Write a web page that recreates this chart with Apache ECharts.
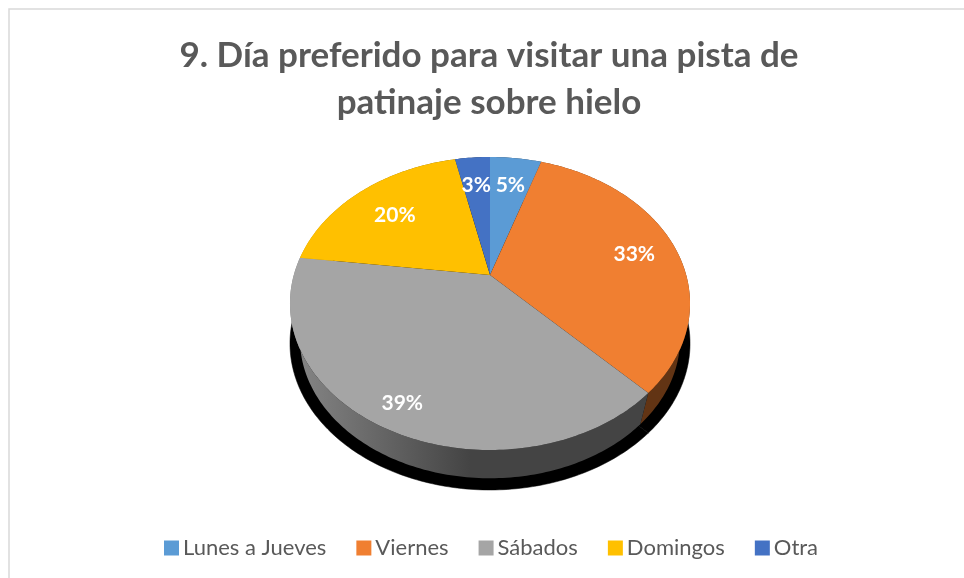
<!DOCTYPE html>
<html>
<head>
<meta charset="utf-8">
<title>Día preferido</title>
<script src="https://cdn.jsdelivr.net/npm/echarts@6/dist/echarts.min.js"></script>
<style>
    html, body { margin: 0; padding: 0; background: #fff; }
    #chart { width: 964px; height: 578px; }
</style>
</head>
<body>
<div id="chart"></div>
<script>
    var categories = ['Lunes a Jueves', 'Viernes', 'Sábados', 'Domingos', 'Otra'];
    var shares = [5, 32.8, 39.2, 19.6, 3.4];
    var colors = ['#5B9BD5', '#F07F31', '#A5A5A5', '#FFC000', '#4472C4'];

    // how far out each percentage sits, as a fraction of the radius
    var labelReach = [0.76, 0.78, 0.85, 0.72, 0.76];

    // tilted disc: the hub is above the middle of the ellipse
    var hubX = 490, hubY = 275;
    var radX = 196.2, radY = 140.96, tilt = 0.1945;
    var wallScale = 0.95, wallDrop = 37, shadowDrop = 40;

    var total = shares.reduce(function (a, b) { return a + b; }, 0);

    function project(deg, reach, scale, drop) {
        var a = deg * Math.PI / 180;
        var u = Math.sin(a) * reach, v = -Math.cos(a) * reach;
        var d = 1 - tilt * v;
        return [hubX + scale * radX * u / d, hubY + drop + scale * radY * v / d];
    }

    function arc(from, to, scale, drop) {
        var pts = [];
        var steps = Math.max(2, Math.ceil(to - from));
        for (var i = 0; i <= steps; i++) {
            pts.push(project(from + (to - from) * i / steps, 1, scale, drop));
        }
        return pts;
    }

    function shade(color, f) {
        var c = echarts.color.parse(color);
        return 'rgb(' + Math.round(c[0] * f) + ',' + Math.round(c[1] * f) + ',' + Math.round(c[2] * f) + ')';
    }

    function wallFill(color) {
        return new echarts.graphic.LinearGradient(300, 0, 470, 0, [
            { offset: 0, color: shade(color, 0.8) },
            { offset: 1, color: shade(color, 0.41) }
        ], true);
    }

    function sliceRenderer(idx) {
        var before = 0;
        for (var i = 0; i < idx; i++) before += shares[i];
        return function (params, api) {
            var value = api.value(0);
            var from = before / total * 360;
            var to = (before + value) / total * 360;
            var mid = project((from + to) / 2, labelReach[idx], 1, 0);
            var wall = arc(from, to, 1, 0).concat(arc(from, to, wallScale, wallDrop).reverse());
            var shadow = [project(0, 0, 1, shadowDrop)].concat(arc(from, to, 1, shadowDrop));
            var top = [[hubX, hubY]].concat(arc(from, to, 1, 0));
            return {
                type: 'group',
                children: [
                    { type: 'polygon', z2: 1, shape: { points: shadow }, style: { fill: '#000', stroke: '#000', lineWidth: 0.5 } },
                    { type: 'polygon', z2: 2, shape: { points: wall }, style: { fill: wallFill(colors[idx]) } },
                    { type: 'polygon', z2: 3, shape: { points: top }, style: { fill: colors[idx] } },
                    {
                        type: 'text', z2: 4,
                        style: {
                            x: mid[0], y: mid[1] + 3,
                            text: Math.round(value / total * 100) + '%',
                            fill: '#fff',
                            font: 'bold 21px Lato',
                            align: 'center',
                            verticalAlign: 'middle'
                        }
                    }
                ]
            };
        };
    }

    var chart = echarts.init(document.getElementById('chart'));
    chart.setOption({
        backgroundColor: '#fff',
        animation: false,
        title: {
            text: '9. Día preferido para visitar una pista de\npatinaje sobre hielo',
            left: 484,
            top: 27,
            textAlign: 'center',
            textStyle: {
                color: '#595959',
                fontFamily: 'Lato',
                fontWeight: 'bold',
                fontSize: 35,
                lineHeight: 47
            }
        },
        legend: {
            data: categories,
            left: 159,
            top: 532,
            icon: 'rect',
            itemWidth: 15,
            itemHeight: 15,
            itemGap: 30,
            selectedMode: false,
            textStyle: { color: '#595959', fontFamily: 'Lato', fontSize: 22, padding: [0, 0, 0, -1] }
        },
        graphic: [{
            type: 'rect',
            silent: true,
            shape: { x: 9, y: 9, width: 1000, height: 1000 },
            style: { fill: 'none', stroke: '#d9d9d9', lineWidth: 1.5 }
        }],
        series: categories.map(function (name, i) {
            return {
                type: 'custom',
                name: name,
                coordinateSystem: 'none',
                silent: true,
                itemStyle: { color: colors[i] },
                renderItem: sliceRenderer(i),
                data: [[shares[i]]]
            };
        })
    });
</script>
</body>
</html>
